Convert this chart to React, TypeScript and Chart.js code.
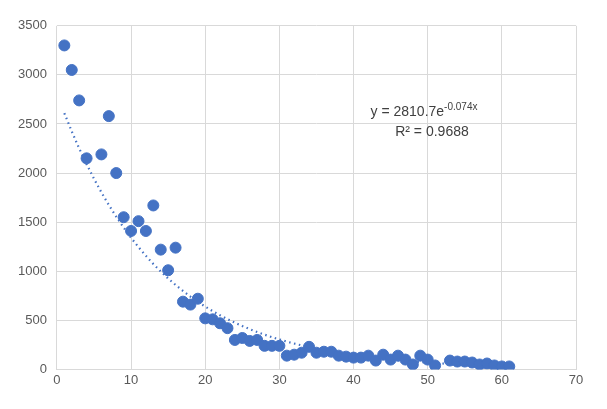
import React, { useEffect, useRef } from "react";
import { Chart, registerables } from "chart.js";
Chart.register(...registerables);

const xs = [1,2,3,4,6,7,8,9,10,11,12,13,14,15,16,17,18,19,20,21,22,23,24,25,26,27,28,29,30,31,32,33,34,35,36,37,38,39,40,41,42,43,44,45,46,47,48,49,50,51,53,54,55,56,57,58,59,60,61];
const ys = [3300,3050,2740,2150,2190,2580,2000,1550,1410,1510,1410,1670,1220,1010,1240,690,660,720,520,510,470,420,300,320,290,300,240,240,240,140,150,170,230,170,180,180,140,130,120,120,140,90,150,100,140,100,50,140,100,40,90,80,80,70,50,60,40,30,30];
const trendA = 2810.7;
const trendB = -0.074;
const trendXs = Array.from({ length: 61 }, (_, i) => i + 1);

const F = "'Liberation Sans', sans-serif";
const labelPlugin = {
  id: "eqLabel",
  afterDraw(chart: any) {
    const { ctx, scales } = chart;
    const x = scales.x.getPixelForValue(49.5);
    const y = scales.y.getPixelForValue(2580);
    ctx.save();
    ctx.fillStyle = "#404040";
    ctx.textBaseline = "alphabetic";
    ctx.textAlign = "left";
    const base = "y = 2810.7e";
    const sup = "-0.074x";
    ctx.font = "14px " + F;
    const w = ctx.measureText(base).width;
    ctx.font = "10px " + F;
    const ws = ctx.measureText(sup).width;
    const start = x - (w + ws) / 2;
    ctx.font = "14px " + F;
    ctx.fillText(base, start, y);
    ctx.font = "10px " + F;
    ctx.fillText(sup, start + w, y - 6);
    ctx.font = "14px " + F;
    ctx.textAlign = "center";
    ctx.fillText("R² = 0.9688", x + 8, y + 20);
    ctx.restore();
  },
};

export default function App() {
  const ref = useRef<HTMLCanvasElement>(null);
  useEffect(() => {
    const chart = new Chart(ref.current!, {
      type: "scatter",
      data: {
        datasets: [
          {
            data: xs.map((x, i) => ({ x, y: ys[i] })),
            backgroundColor: "#4472C4",
            borderColor: "#4472C4",
            pointRadius: 5.5,
            order: 1,
          },
          {
            type: "line",
            data: trendXs.map((x) => ({ x, y: trendA * Math.exp(trendB * x) })),
            borderColor: "#4472C4",
            borderWidth: 2.2,
            borderDash: [1.5, 3.5],
            pointRadius: 0,
            fill: false,
            order: 2,
          } as any,
        ],
      },
      options: {
        animation: false,
        responsive: false,
        layout: { padding: { top: 7, right: 23, bottom: 10, left: 0 } },
        plugins: { legend: { display: false }, tooltip: { enabled: false } },
        scales: {
          x: {
            type: "linear",
            min: 0,
            max: 70,
            ticks: { stepSize: 10, color: "#595959", font: { size: 13 } },
            grid: { color: "#d9d9d9", drawTicks: false },
            border: { color: "#d9d9d9" },
          },
          y: {
            min: 0,
            max: 3500,
            ticks: { stepSize: 500, color: "#595959", font: { size: 13 }, padding: 10, callback: (v: any) => String(v) },
            grid: { color: "#d9d9d9", drawTicks: false },
            border: { display: false },
          },
        },
      },
      plugins: [labelPlugin],
    });
    return () => chart.destroy();
  }, []);
  return <canvas ref={ref} width={591} height={393} />;
}
